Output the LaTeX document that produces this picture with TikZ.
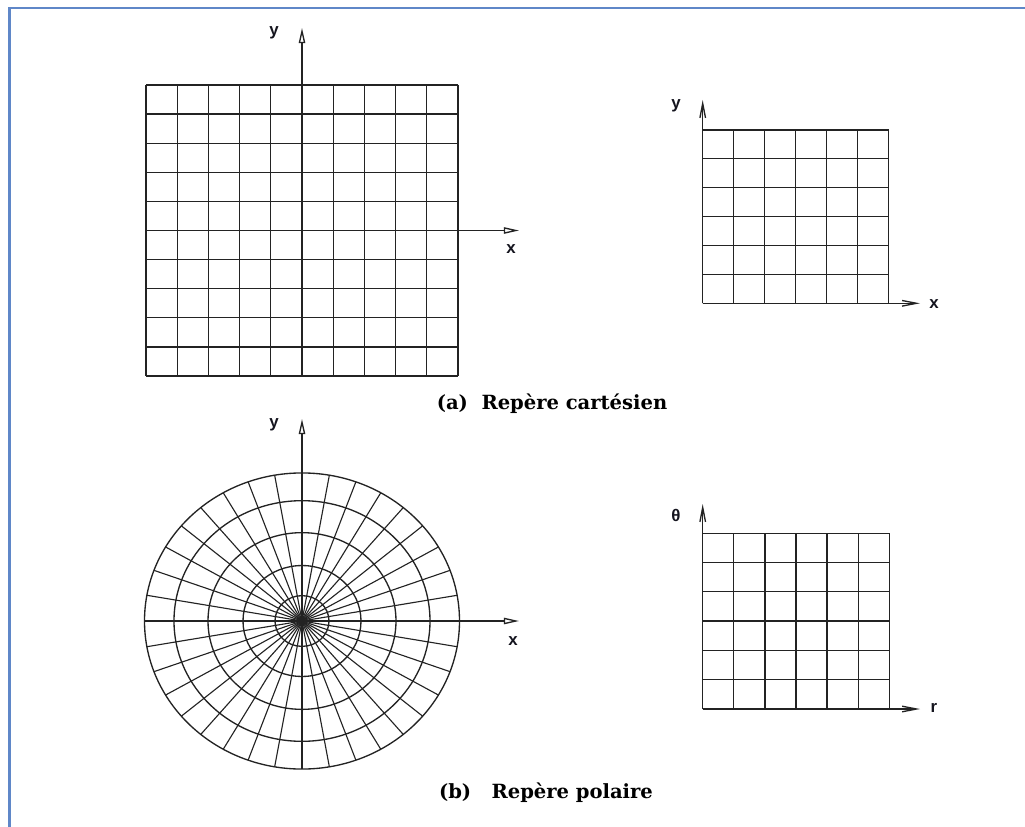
\documentclass[tikz,border=0pt]{standalone}
\usepackage{fontspec}
\usetikzlibrary{arrows.meta}
\newfontfamily\axisfont{Liberation Sans}
\newfontfamily\capfont{DejaVu Serif}
\definecolor{gridcol}{RGB}{35,35,35}
\definecolor{framecol}{RGB}{95,135,200}
\definecolor{labelcol}{RGB}{20,20,30}

\begin{document}
\begin{tikzpicture}[x=0.025cm, y=-0.025cm,
		gridline/.style={gridcol, line width=0.95pt},
		openaxis/.style={gridcol, line width=0.95pt, -{Triangle[open, length=0.38cm, width=0.16cm]}},
		barbaxis/.style={gridcol, line width=0.95pt, -{Straight Barb[length=0.36cm, width=0.14cm]}},
		axislabel/.style={labelcol, font=\axisfont\bfseries\fontsize{12}{13}\selectfont},
		figcaption/.style={font=\capfont\bfseries\fontsize{13.9}{15}\selectfont}]

	\useasboundingbox (0,0) rectangle (1025,827);

	% --- Frame (left and top edge only) ---
	\draw[framecol, line width=1.5pt] (9.5,840) -- (9.5,8) -- (1040,8);

	% =============================================
	%  (a) CARTESIAN GRID, AXES THROUGH THE MIDDLE
	% =============================================

	\def\cellW{31.2}
	\def\cellH{29.1}
	\def\Ncart{10}
	\coordinate (cartNW) at (146,85);

	\foreach \i in {0,...,\Ncart} {
			\pgfmathsetmacro{\gx}{146 + \i*\cellW}
			\pgfmathsetmacro{\gy}{85 + \i*\cellH}
			\draw[gridline] (\gx,85) -- (\gx,{85 + \Ncart*\cellH});
			\draw[gridline] (146,\gy) -- ({146 + \Ncart*\cellW},\gy);
		}

	\coordinate (cartYfoot) at (302,85);
	\coordinate (cartYtip) at (302,28);
	\coordinate (cartXfoot) at (458,230.5);
	\coordinate (cartXtip) at (519,230.5);
	\draw[openaxis] (cartYfoot) -- (cartYtip);
	\draw[openaxis] (cartXfoot) -- (cartXtip);
	\node[axislabel] (cartY) at (274,33) {y};
	\node[axislabel] (cartX) at (511,249) {x};

	% --- Same grid, axes on its edges ---
	\def\Nsq{6}
	\coordinate (sqO) at (702.7,303.3);
	\foreach \i in {0,...,\Nsq} {
			\pgfmathsetmacro{\gx}{702.7 + \i*31}
			\pgfmathsetmacro{\gy}{303.3 - \i*28.9}
			\draw[gridline] (\gx,303.3) -- (\gx,{303.3 - \Nsq*28.9});
			\draw[gridline] (702.7,\gy) -- ({702.7 + \Nsq*31},\gy);
		}
	\coordinate (sqYtip) at (702.7,100);
	\coordinate (sqXtip) at (920,303.3);
	\draw[barbaxis] (sqO) -- (sqYtip);
	\draw[barbaxis] (sqO) -- (sqXtip);
	\node[axislabel] (sqY) at (676,106) {y};
	\node[axislabel] (sqX) at (934,304) {x};

	\node[figcaption] (capA) at (552,404) {(a)\ \ Repère cartésien};

	% =============================================
	%  (b) POLAR GRID
	% =============================================

	\def\ryFac{0.94}
	\def\rOut{157.5}
	\coordinate (polO) at (302,621);

	% rings
	\foreach \r in {27,59,94,128,\rOut} {
			\pgfmathsetmacro{\ry}{\ryFac*\r}
			\draw[gridline] (polO) ellipse [x radius=\r, y radius=\ry];
		}

	% spokes every 10 degrees
	\foreach \a in {0,10,...,350} {
			\pgfmathsetmacro{\dx}{\rOut*cos(\a)}
			\pgfmathsetmacro{\dy}{\ryFac*\rOut*sin(\a)}
			\draw[gridline, line width=0.8pt] (polO) -- ++(\dx,\dy);
		}

	\coordinate (polYfoot) at (302,769);
	\coordinate (polYtip) at (302,419);
	\coordinate (polXfoot) at (144.5,621);
	\coordinate (polXtip) at (519,621);
	\draw[openaxis] (polYfoot) -- (polYtip);
	\draw[openaxis] (polXfoot) -- (polXtip);
	\node[axislabel] (polY) at (274,425) {y};
	\node[axislabel] (polX) at (513,641) {x};

	% --- Same grid in (r, theta) ---
	\coordinate (rtO) at (702.7,709);
	\foreach \i in {0,...,\Nsq} {
			\pgfmathsetmacro{\gx}{702.7 + \i*31.1}
			\pgfmathsetmacro{\gy}{709 - \i*29.3}
			\draw[gridline] (\gx,709) -- (\gx,{709 - \Nsq*29.3});
			\draw[gridline] (702.7,\gy) -- ({702.7 + \Nsq*31.1},\gy);
		}
	\coordinate (rtYtip) at (702.7,504);
	\coordinate (rtXtip) at (920,709);
	\draw[barbaxis] (rtO) -- (rtYtip);
	\draw[barbaxis] (rtO) -- (rtXtip);
	\node[axislabel] (rtTheta) at (676,515) {θ};
	\node[axislabel] (rtR) at (934,708) {r};

	\node[figcaption] (capB) at (546,793) {(b)\ \ \ Repère polaire};

\end{tikzpicture}
\end{document}
